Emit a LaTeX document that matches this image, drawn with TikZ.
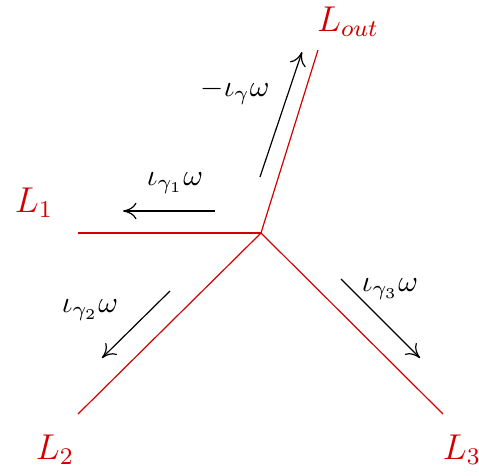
\documentclass[tikz,border=0pt]{standalone}
\usepackage{tikz}
\usetikzlibrary{arrows.meta}
\definecolor{legred}{RGB}{210,0,0}

\begin{document}
\begin{tikzpicture}[thin,scale=0.587,>={To[length=4.5pt,width=5.5pt]}]
  \useasboundingbox (-5.22,-4.84) rectangle (4.36,4.66);

  % the vertex and the ends of the legs
  \coordinate (o) at (0,0);
  \coordinate (eout) at (1.14,3.66);
  \coordinate (e1) at (-3.66,0);
  \coordinate (e2) at (-3.66,-3.62);
  \coordinate (e3) at (3.64,-3.62);

  \draw[legred] (o)--(eout);
  \draw[legred] (o)--(e1);
  \draw[legred] (o)--(e2);
  \draw[legred] (o)--(e3);

  \node[legred] (lout) at (1.74,4.22) {\large $L_{out}$};
  \node[legred] (l1) at (-4.54,0.6) {\large $L_1$};
  \node[legred] (l2) at (-4.12,-4.34) {\large $L_2$};
  \node[legred] (l3) at (4.02,-4.34) {\large $L_3$};

  % the flows along the legs
  \coordinate (a0) at (-0.02,1.12);
  \coordinate (b0) at (0.82,3.62);
  \coordinate (a1) at (-0.92,0.44);
  \coordinate (b1) at (-2.76,0.44);
  \coordinate (a2) at (-1.82,-1.16);
  \coordinate (b2) at (-3.18,-2.5);
  \coordinate (a3) at (1.6,-0.92);
  \coordinate (b3) at (3.18,-2.5);

  \draw[->] (a0)--(b0);
  \draw[->] (a1)--(b1);
  \draw[->] (a2)--(b2);
  \draw[->] (a3)--(b3);

  \node (w0) at (-0.52,2.82) {$-\iota_{\gamma}\omega$};
  \node (w1) at (-1.72,1.0) {$\iota_{\gamma_1}\omega$};
  \node (w2) at (-3.42,-1.54) {$\iota_{\gamma_2}\omega$};
  \node (w3) at (2.58,-1.12) {$\iota_{\gamma_3}\omega$};
\end{tikzpicture}
\end{document}
